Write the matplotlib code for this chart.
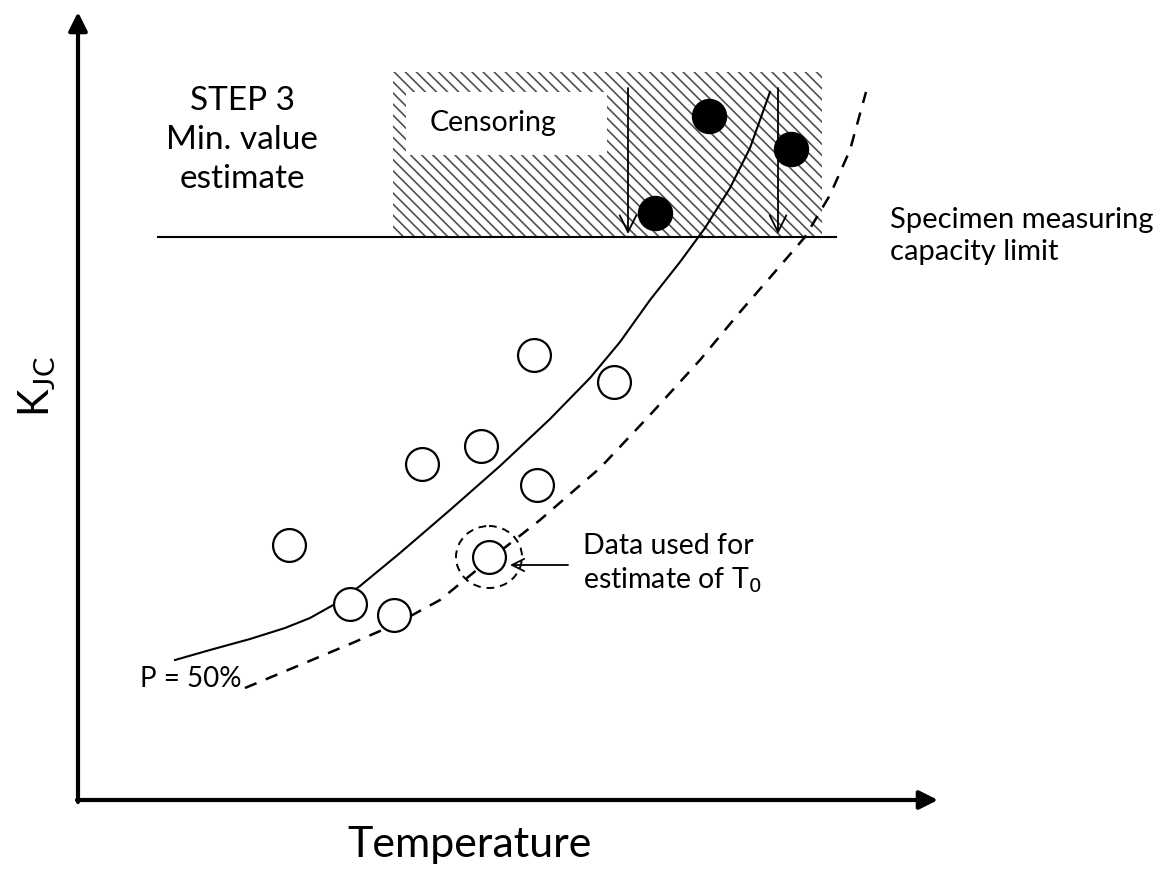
import numpy as np
import matplotlib
matplotlib.use("Agg")
import matplotlib.pyplot as plt
from matplotlib.patches import Rectangle, Ellipse

plt.rcParams['font.family'] = ['Lato', 'DejaVu Sans']

# Schematic drawn in a pixel-like canvas (x right, y down)
W, H = 1172, 872

# Measured fracture toughness values (open) and censored values (filled)
open_x = [289, 350, 394, 422, 481, 534, 537, 614, 489]
open_y = [545, 604, 615, 464, 446, 355, 485, 382, 557]
censored_x = [709, 791, 655]
censored_y = [116, 149, 213]

# Median (P = 50%) curve and lower curve
median_x = [175, 210, 250, 285, 310, 335, 360, 400, 450, 500, 550, 590, 620,
            650, 680, 705, 730, 750, 770]
median_y = [660, 650, 639, 628, 618, 604, 586, 553, 510, 466, 419, 378, 342,
            300, 262, 228, 188, 148, 92]
lower_x = [245, 300, 350, 394, 440, 489, 540, 600, 650, 700, 740, 780,
           805, 830, 850, 866]
lower_y = [688, 665, 644, 625, 600, 560, 520, 468, 415, 360, 312, 266,
           237, 195, 150, 92]

# Specimen capacity limit and censoring region
limit_y = 237
limit_x = (158, 836)
censor_box = (393, 72, 822, 237)
censor_arrows_x = [628, 778]
t0_point = (489, 557)

fig = plt.figure(figsize=(W / 100, H / 100), dpi=100)
ax = fig.add_axes([0, 0, 1, 1])
ax.set_xlim(0, W)
ax.set_ylim(H, 0)
ax.axis('off')

# Axes with arrows
ax.annotate('', xy=(78, 12), xytext=(78, 802),
            arrowprops=dict(arrowstyle='-|>', lw=3, color='black',
                            mutation_scale=28, shrinkA=0, shrinkB=0))
ax.annotate('', xy=(938, 800), xytext=(77, 800),
            arrowprops=dict(arrowstyle='-|>', lw=3, color='black',
                            mutation_scale=28, shrinkA=0, shrinkB=0))

# Censoring region
x0, y0, x1, y1 = censor_box
plt.rcParams['hatch.linewidth'] = 1.2
ax.add_patch(Rectangle((x0, y0), x1 - x0, y1 - y0, facecolor='white',
                       edgecolor='#505050', hatch='\\\\\\', lw=0, zorder=1))
ax.add_patch(Rectangle((406, 92), 201, 63, facecolor='white', edgecolor='none', zorder=2))
ax.text(430, 123, 'Censoring', fontsize=20.5, va='center', ha='left', zorder=3)

# Capacity limit line
ax.plot(limit_x, [limit_y, limit_y], color='black', lw=1.5, zorder=3)

# Censoring arrows
for cx in censor_arrows_x:
    ax.annotate('', xy=(cx, limit_y - 3), xytext=(cx, 88),
                arrowprops=dict(arrowstyle='->', lw=1.3, color='black',
                                mutation_scale=30, shrinkA=0, shrinkB=0), zorder=4)

# Curves
ax.plot(median_x, median_y, color='black', lw=1.5, zorder=3)
ax.plot(lower_x, lower_y, color='black', lw=1.8, ls=(0, (5, 4)), zorder=3)

# Data points
ax.scatter(open_x, open_y, s=560, facecolor='white', edgecolor='black', lw=1.6, zorder=5)
ax.scatter(censored_x, censored_y, s=600, facecolor='black', edgecolor='black', zorder=5)

# Highlighted T0 point
ax.add_patch(Ellipse(t0_point, 66, 62, facecolor='none', edgecolor='black',
                     lw=1.4, ls=(0, (4, 3)), zorder=6))
ax.annotate('', xy=(510, 565), xytext=(568, 565),
            arrowprops=dict(arrowstyle='->', lw=1.3, color='black',
                            mutation_scale=22, shrinkA=0, shrinkB=0), zorder=6)

# Labels
ax.text(242, 140, 'STEP 3\nMin. value\nestimate', fontsize=24, ha='center',
        va='center', linespacing=1.38)
ax.text(890, 236, 'Specimen measuring\ncapacity limit', fontsize=21, ha='left',
        va='center', linespacing=1.3)
ax.text(583, 564, 'Data used for\nestimate of T$_0$', fontsize=20.5, ha='left',
        va='center', linespacing=1.25)
ax.text(140, 679, 'P = 50%', fontsize=20, ha='left', va='center')
ax.text(37, 386, 'K$_{\\mathregular{JC}}$', fontsize=30, ha='center', va='center',
        rotation=90)
ax.text(470, 845, 'Temperature', fontsize=31, ha='center', va='center')

fig.savefig('out.png', dpi=100)
